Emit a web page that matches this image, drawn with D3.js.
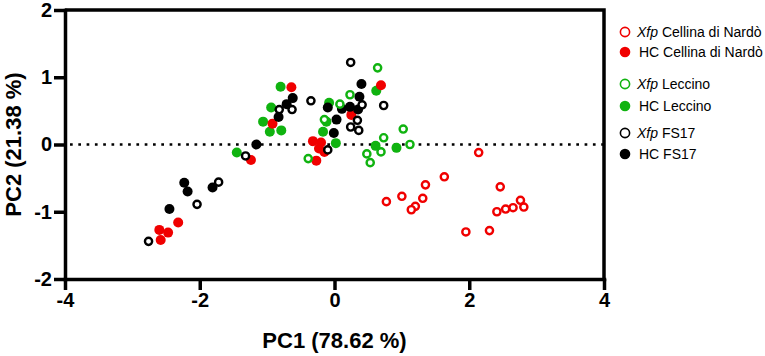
<!DOCTYPE html>
<html>
<head>
<meta charset="utf-8">
<script src="https://cdn.jsdelivr.net/npm/d3@7"></script>
<style>
  body { margin: 0; background: #fff; }
  text { font-family: "Liberation Sans", Arial, sans-serif; }
</style>
</head>
<body>
<div id="chart"></div>
<script>
// PCA scores, [PC1, PC2] per sample
const xfpCellina = [[2.14,-0.12],[1.63,-0.48],[1.35,-0.60],[1.00,-0.77],[0.77,-0.85],[1.31,-0.80],
  [1.20,-0.92],[1.14,-0.97],[2.46,-0.63],[2.76,-0.83],[2.81,-0.93],[2.65,-0.94],[2.54,-0.96],
  [2.41,-1.00],[2.30,-1.28],[1.95,-1.30]];
const hcCellina = [[-2.32,-1.16],[-2.60,-1.27],[-2.47,-1.31],[-2.58,-1.42],[-0.64,0.85],[-0.92,0.31],
  [-1.24,-0.23],[0.69,0.88],[0.25,0.44],[-0.32,0.05],[-0.20,0.03],[-0.23,-0.06],[-0.15,-0.11],[-0.27,-0.24]];
const xfpLeccino = [[0.64,1.14],[0.23,0.74],[0.08,0.60],[-0.15,0.37],[1.02,0.23],[0.73,0.10],[1.12,0.0],
  [0.69,-0.11],[0.48,-0.14],[0.53,-0.27],[-0.39,-0.21]];
const hcLeccino = [[-0.80,0.86],[-0.94,0.55],[-1.06,0.34],[-0.96,0.19],[-0.79,0.21],[-1.45,-0.12],
  [0.62,0.80],[0.61,-0.02],[0.92,-0.05],[0.02,0.02],[-0.17,0.19],[-0.12,0.34],[-0.08,0.62]];
const xfpFS17 = [[-2.76,-1.44],[-2.04,-0.89],[-1.72,-0.56],[-1.32,-0.17],[-0.63,0.52],[-0.82,0.52],
  [-0.35,0.65],[0.24,1.22],[0.73,0.58],[0.41,0.59],[0.34,0.36],[0.24,0.26],[0.36,0.21],[-0.10,-0.08]];
const hcFS17 = [[-2.23,-0.57],[-2.18,-0.70],[-1.81,-0.64],[-2.45,-0.96],[-0.62,0.69],[-0.71,0.60],
  [-0.83,0.41],[-1.16,0.0],[0.40,0.90],[0.37,0.71],[-0.10,0.55],[0.11,0.53],[0.23,0.56],[0.35,0.52],
  [0.03,0.37],[-0.01,0.17]];

const xTicks = [-4, -2, 0, 2, 4];
const yTicks = [-2, -1, 0, 1, 2];

const red = "#f00000", green = "#10b310", black = "#000";

const groups = [
  {label: "Cellina di Nardò", xfp: true,  color: red,   data: xfpCellina},
  {label: "Cellina di Nardò", xfp: false, color: red,   data: hcCellina},
  {label: "Leccino",          xfp: true,  color: green, data: xfpLeccino},
  {label: "Leccino",          xfp: false, color: green, data: hcLeccino},
  {label: "FS17",             xfp: true,  color: black, data: xfpFS17},
  {label: "FS17",             xfp: false, color: black, data: hcFS17}
];

const width = 765, height = 356;
const svg = d3.select("#chart").append("svg")
  .attr("width", width).attr("height", height);

const x = d3.scaleLinear().domain([-4, 4]).range([65, 604]);
const y = d3.scaleLinear().domain([-2, 2]).range([279, 10]);

// dotted zero line
svg.append("line")
  .attr("x1", x(-4) + 5).attr("x2", x(4))
  .attr("y1", y(0)).attr("y2", y(0))
  .attr("stroke", "#000").attr("stroke-width", 2.7)
  .attr("stroke-dasharray", "2.7,5.6");

// points: filled first, then open ones on top
const drawOrder = [3, 1, 5, 0, 2, 4];
drawOrder.forEach(i => {
  const g = groups[i];
  svg.append("g").selectAll("circle")
    .data(g.data)
    .enter().append("circle")
      .attr("cx", d => x(d[0]))
      .attr("cy", d => y(d[1]))
      .attr("r", g.xfp ? 3.6 : 5)
      .attr("fill", g.xfp ? "#fff" : g.color)
      .attr("stroke", g.xfp ? g.color : "none")
      .attr("stroke-width", 2.4);
});

// frame (top + right)
svg.append("path")
  .attr("d", `M${x(-4)},${y(2)}H${x(4)}V${y(-2)}`)
  .attr("fill", "none").attr("stroke", "#000").attr("stroke-width", 3.5);

// axes
const xAxis = svg.append("g")
  .attr("transform", `translate(0,${y(-2)})`)
  .call(d3.axisBottom(x).tickValues(xTicks).tickSize(11).tickSizeOuter(0)
    .tickPadding(3).tickFormat(d => String(d)));

const yAxis = svg.append("g")
  .attr("transform", `translate(${x(-4)},0)`)
  .call(d3.axisLeft(y).tickValues(yTicks).tickSize(11).tickSizeOuter(0)
    .tickPadding(2).tickFormat(d => String(d)));

[xAxis, yAxis].forEach(a => {
  a.select(".domain").attr("stroke-width", 3.5).attr("stroke-linecap", "square");
  a.selectAll(".tick line").attr("stroke-width", 3.5);
  a.selectAll(".tick text")
    .attr("fill", "#000")
    .style("font-size", "20px")
    .style("font-weight", "bold");
});

// axis titles
svg.append("text")
  .attr("x", x(0)).attr("y", 348)
  .attr("text-anchor", "middle")
  .style("font-size", "22px").style("font-weight", "bold")
  .text("PC1 (78.62 %)");

svg.append("text")
  .attr("transform", `translate(21,${y(0)}) rotate(-90)`)
  .attr("text-anchor", "middle")
  .style("font-size", "22px").style("font-weight", "bold")
  .text("PC2 (21.38 %)");

// legend
const legendY = [32, 52, 84, 106, 133, 154];
const legend = svg.append("g");
groups.forEach((g, i) => {
  const row = legend.append("g").attr("transform", `translate(625,${legendY[i]})`);
  row.append("circle")
    .attr("r", g.xfp ? 4.6 : 5.3)
    .attr("fill", g.xfp ? "#fff" : g.color)
    .attr("stroke", g.xfp ? g.color : "none")
    .attr("stroke-width", 1.6);
  const t = row.append("text")
    .attr("x", g.xfp ? 12 : 14).attr("y", 5)
    .style("font-size", "14px");
  if (g.xfp) {
    t.append("tspan").style("font-style", "italic").text("Xfp");
    t.append("tspan").text(" " + g.label);
  } else {
    t.text("HC " + g.label);
  }
});
</script>
</body>
</html>
